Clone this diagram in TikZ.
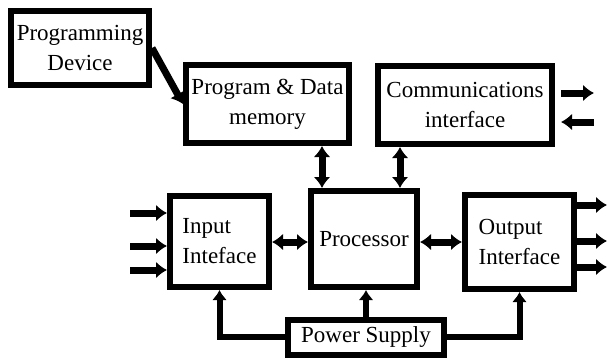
\documentclass[tikz,border=0pt]{standalone}
\usepackage{fontspec}
\setmainfont{Liberation Serif}
\usetikzlibrary{arrows.meta}
\begin{document}
\begin{tikzpicture}[x=1pt,y=-1pt,
  blk/.style={draw=black, line width=6pt, fill=white, inner sep=0pt,
    font=\fontsize{23}{30}\selectfont, align=center},
  arr/.style={line width=7pt, -{Latex[length=11pt,width=17pt]}},
  dbl/.style={line width=7pt, {Latex[length=11pt,width=17pt]}-{Latex[length=11pt,width=17pt]}},
  pwr/.style={line width=6pt, -{Latex[length=10pt,width=15pt]}}]
\useasboundingbox (0,0) rectangle (608,360);
\fill[white] (0,0) rectangle (608,360);

\node[blk, minimum width=138pt, minimum height=74pt] (prog) at (80,48) {Programming\\Device};
\node[blk, minimum width=163pt, minimum height=78pt] (mem) at (267.5,104) {Program \& Data\\memory};
\node[blk, minimum width=174pt, minimum height=78pt] (comm) at (465,105) {Communications\\interface};
\node[blk, minimum width=99pt, minimum height=91pt, align=left] (inp) at (219.5,241.5) {Input\\Inteface};
\node[blk, minimum width=106pt, minimum height=96pt] (proc) at (364,239) {Processor};
\node[blk, minimum width=109pt, minimum height=94pt, align=left] (out) at (519.5,242) {Output\\Interface};
\node[blk, minimum width=156pt, minimum height=35pt] (pow) at (366,337) {Power Supply};

% x/y references
\coordinate (xm) at (322,0);
\coordinate (xc) at (400,0);
\coordinate (ym) at (0,242);

% programming device to memory
\draw[arr] (prog.east) -- (mem.west);

% vertical double arrows
\draw[dbl] (mem.south -| xm) -- (proc.north -| xm);
\draw[dbl] (comm.south -| xc) -- (proc.north -| xc);

% horizontal double arrows
\draw[dbl] (inp.east |- ym) -- (proc.west |- ym);
\draw[dbl] (proc.east |- ym) -- (out.west |- ym);

% power supply
\draw[pwr] (pow.west) -| (inp.south);
\draw[pwr] (pow.north) -- (pow.north |- proc.south);
\draw[pwr] (pow.east) -| (out.south);

% communications external arrows
\coordinate (c1s) at (561,93);
\coordinate (c1) at (594,93);
\coordinate (c2s) at (561,122);
\coordinate (c2) at (594,122);
\draw[arr] (c1s) -- (c1);
\draw[arr] (c2) -- (c2s);

% input external arrows
\coordinate (i1) at (130,213);
\coordinate (i2) at (130,246);
\coordinate (i3) at (130,270);
\draw[arr] (i1) -- (inp.west |- i1);
\draw[arr] (i2) -- (inp.west |- i2);
\draw[arr] (i3) -- (inp.west |- i3);

% output external arrows
\coordinate (o1) at (607,205);
\coordinate (o2) at (607,241);
\coordinate (o3) at (607,267);
\draw[arr] (out.east |- o1) -- (o1);
\draw[arr] (out.east |- o2) -- (o2);
\draw[arr] (out.east |- o3) -- (o3);
\end{tikzpicture}
\end{document}
